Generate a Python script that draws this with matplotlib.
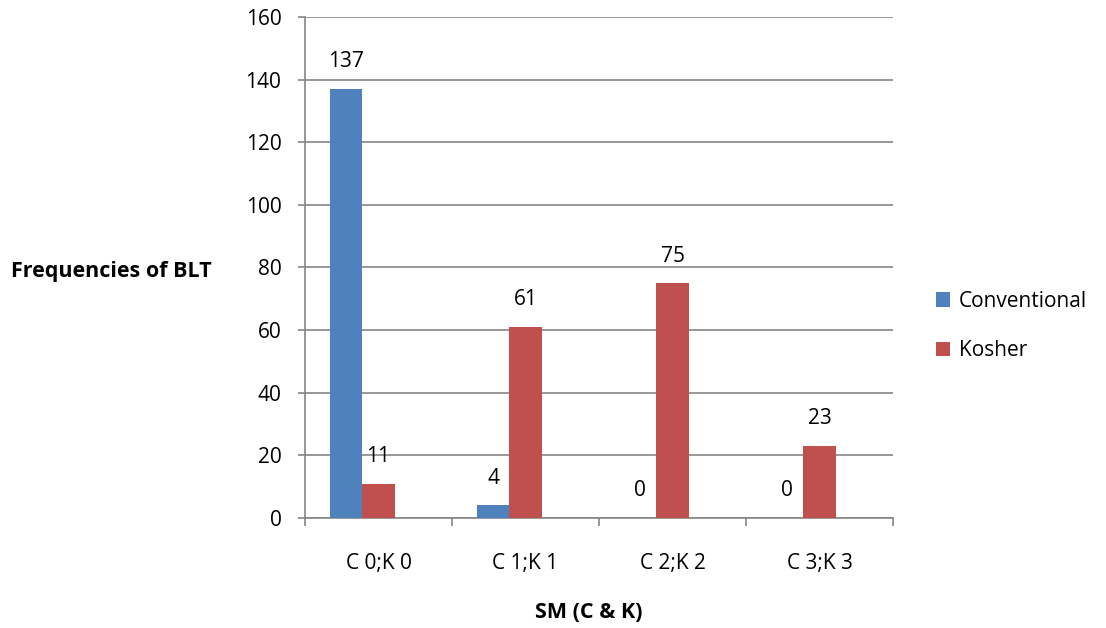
import matplotlib
matplotlib.use("Agg")
import matplotlib.pyplot as plt
import numpy as np

categories = ["C 0;K 0", "C 1;K 1", "C 2;K 2", "C 3;K 3"]
conventional = [137, 4, 0, 0]
kosher = [11, 61, 75, 23]

plt.rcParams['font.family'] = ['Open Sans', 'DejaVu Sans']
FS = 15

fig = plt.figure(figsize=(11.06, 6.28), dpi=100)
ax = fig.add_axes([0.2758, 0.1752, 0.5316, 0.7978])

x = np.arange(len(categories))
w = 0.221
# bars sit in the left two slots of a three-slot group
b1 = ax.bar(x - w, conventional, w, color="#4F81BD", label="Conventional", zorder=3)
b2 = ax.bar(x, kosher, w, color="#C0504D", label="Kosher", zorder=3)

for bars in (b1, b2):
    for rect in bars:
        h = rect.get_height()
        ax.annotate(f"{h:g}", (rect.get_x() + rect.get_width() / 2, h),
                    xytext=(0, 27), textcoords="offset pixels",
                    ha="center", va="center", fontsize=FS)

ax.set_xlim(-0.5, len(categories) - 0.5)
ax.set_ylim(0, 160)
ax.set_yticks(range(0, 161, 20))
ax.yaxis.grid(True, color="#868686", linewidth=1.2, zorder=0)
ax.set_axisbelow(True)

ax.set_xticks(x)
ax.set_xticklabels(categories)
ax.set_xticks(np.arange(-0.5, len(categories)), minor=True)
ax.tick_params(axis="x", which="major", length=0, pad=25, labelsize=FS)
ax.tick_params(axis="x", which="minor", length=6, width=1.2, color="#868686", direction="out")
ax.tick_params(axis="y", length=5, width=1.2, color="#868686", labelsize=FS, pad=12)

for side in ("top", "right"):
    ax.spines[side].set_visible(False)
for side in ("left", "bottom"):
    ax.spines[side].set_color("#868686")
    ax.spines[side].set_linewidth(1.2)

fig.text(0.101, 0.568, "Frequencies of BLT", fontsize=15.5, fontweight="bold",
         ha="center", va="center")
fig.text(0.5325, 0.024, "SM (C & K)", fontsize=15.5, fontweight="bold",
         ha="center", va="center")

fig.legend(handles=[b1, b2], loc="center left", bbox_to_anchor=(0.846, 0.481),
           frameon=False, fontsize=FS, handlelength=0.7, handleheight=0.7,
           handletextpad=0.4, labelspacing=1.38, borderpad=0, borderaxespad=0)

fig.savefig("out.png", dpi=100)
